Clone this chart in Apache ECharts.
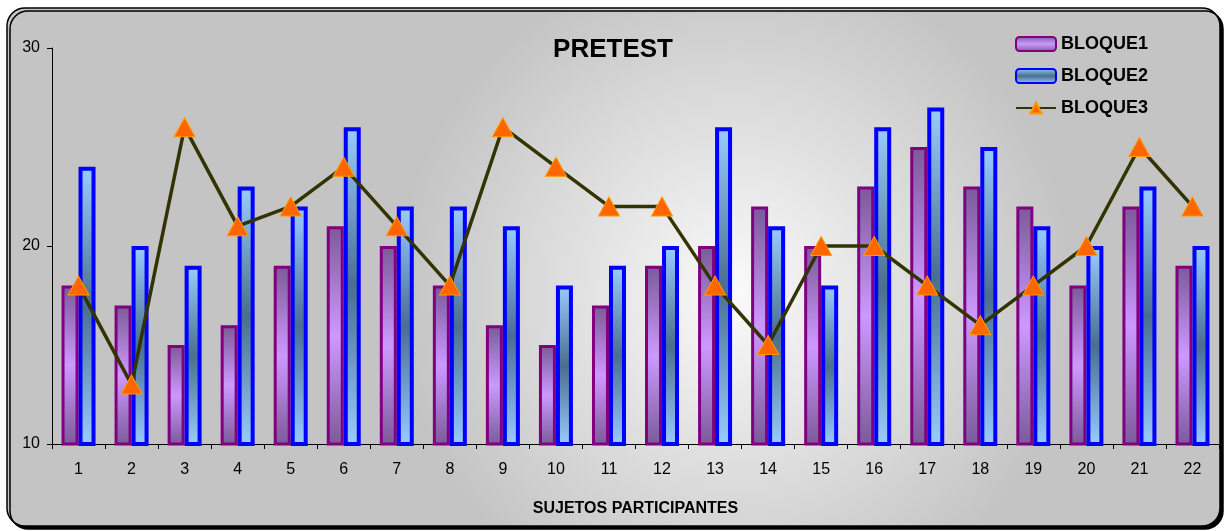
<!DOCTYPE html>
<html><head><meta charset="utf-8">
<script src="https://cdn.jsdelivr.net/npm/echarts@6/dist/echarts.min.js"></script>
<style>html,body{margin:0;padding:0;background:#fff}#c{width:1226px;height:531px}</style>
</head><body><div id="c"></div>
<script>
const categories = ['1','2','3','4','5','6','7','8','9','10','11','12','13','14','15','16','17','18','19','20','21','22'];
const bloque1 = [18,17,15,16,19,21,20,18,16,15,17,19,20,22,20,23,25,23,22,18,22,19];
const bloque2 = [24,20,19,23,22,26,22,22,21,18,19,20,26,21,18,26,27,25,21,20,23,20];
const bloque3 = [18,13,26,21,22,24,21,18,26,24,22,22,18,15,20,20,18,16,18,20,25,22];
const seriesNames = ['BLOQUE1','BLOQUE2','BLOQUE3'];

const chart = echarts.init(document.getElementById('c'));
const FONT = '"Liberation Sans", Arial, sans-serif';
const purpleGrad = new echarts.graphic.LinearGradient(0,0,0,1,[
  {offset:0,color:'#7a5a98'},{offset:0.5,color:'#cc99ff'},{offset:1,color:'#7a5a98'}]);
const blueGrad = new echarts.graphic.LinearGradient(0,0,0,1,[
  {offset:0,color:'#99ccff'},{offset:0.5,color:'#4a6e90'},{offset:1,color:'#99ccff'}]);

chart.setOption({
  animation:false,
  textStyle:{fontFamily:FONT},
  graphic:[{
    type:'rect', z:-10,
    shape:{x:7,y:8,width:1213,height:518,r:18},
    style:{
      fill:new echarts.graphic.RadialGradient(0.6,0.55,0.65,[
        {offset:0,color:'#fafafa'},{offset:1,color:'#c4c4c4'}]),
      stroke:'#000',lineWidth:1.5,
      shadowColor:'#000',shadowOffsetX:3,shadowOffsetY:3,shadowBlur:0
    }
  }],
  title:{text:'PRETEST',left:'center',top:32,
    textStyle:{fontFamily:FONT,fontSize:26,fontWeight:'bold',color:'#000'}},
  legend:{
    orient:'vertical',left:1010,top:30,itemWidth:40,itemHeight:14,itemGap:14,
    textStyle:{fontFamily:FONT,fontSize:18,fontWeight:'bold',color:'#000'},
    data:seriesNames
  },
  grid:{left:52,right:7,top:48,bottom:87},
  xAxis:{
    type:'category',data:categories,
    name:'SUJETOS PARTICIPANTES',nameLocation:'middle',nameGap:57,
    nameTextStyle:{fontFamily:FONT,fontSize:16,fontWeight:'bold',color:'#000'},
    axisLine:{lineStyle:{color:'#000',width:1}},
    axisTick:{show:true,length:5,inside:false,lineStyle:{color:'#000'}},
    axisLabel:{color:'#000',fontSize:16,margin:18}
  },
  yAxis:{
    type:'value',min:10,max:30,interval:10,
    axisLine:{show:true,lineStyle:{color:'#000',width:1}},
    axisTick:{show:true,length:5,lineStyle:{color:'#000'}},
    axisLabel:{color:'#000',fontSize:16,margin:12},
    splitLine:{show:false}
  },
  series:[
    {name:seriesNames[0],type:'bar',data:bloque1,barWidth:17,barGap:'0%',
      itemStyle:{color:purpleGrad,borderColor:'#800080',borderWidth:3}},
    {name:seriesNames[1],type:'bar',data:bloque2,barWidth:17,barGap:'0%',
      itemStyle:{color:blueGrad,borderColor:'#0000ff',borderWidth:4}},
    {name:seriesNames[2],type:'line',data:bloque3,z:5,
      symbol:'triangle',symbolSize:[21,19],
      lineStyle:{color:'#333300',width:3.5},
      itemStyle:{color:'#ff6600',borderColor:'#ff9900',borderWidth:1}}
  ]
});
</script></body></html>
